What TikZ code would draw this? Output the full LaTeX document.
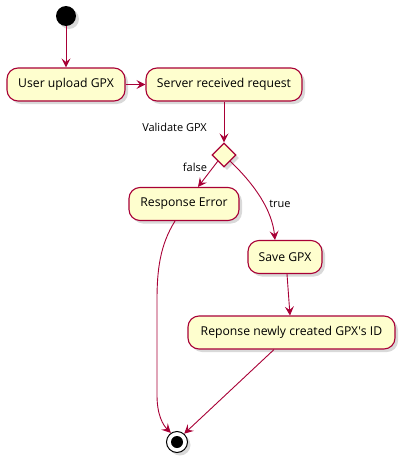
\documentclass[tikz,border=0pt]{standalone}
\usepackage{fontspec}
\setmainfont{Open Sans}
\usetikzlibrary{shapes.geometric,shadows,arrows.meta}
\definecolor{pbord}{HTML}{A80036}
\definecolor{pfill}{HTML}{FEFECE}
\tikzset{
  act/.style={draw=pbord, fill=pfill, line width=1.1pt, rounded corners=11pt, inner sep=0pt,
    minimum height=33pt, font=\fontsize{12.2}{14}\selectfont,
    drop shadow={shadow xshift=3pt, shadow yshift=-3pt, opacity=0.3}},
  dec/.style={draw=pbord, fill=pfill, line width=1.1pt, diamond, inner sep=0pt,
    minimum width=24pt, minimum height=24pt,
    drop shadow={shadow xshift=3pt, shadow yshift=-3pt, opacity=0.3}},
  arr/.style={draw=pbord, line width=0.9pt, -{Stealth[length=9pt,width=9pt,inset=3.5pt]}},
  lbl/.style={font=\fontsize{11}{13}\selectfont, inner sep=0pt},
}
\begin{document}
\begin{tikzpicture}[x=1pt,y=-1pt]
\useasboundingbox (0,0) rectangle (408,463);
\node[circle, fill=black, minimum size=20pt, inner sep=0pt,
  drop shadow={shadow xshift=3pt, shadow yshift=-3pt, opacity=0.3}] (start) at (66,16) {};
\node[act, minimum width=118pt] (user) at (66,84.5) {User upload GPX};
\node[act, minimum width=156pt] (server) at (224,84.5) {Server received request};
\node[dec] (valid) at (224,155) {};
\node[lbl, anchor=east] (vlab) at (207,127) {Validate GPX};
\node[act, minimum width=110pt] (err) at (184,204) {Response Error};
\node[act, minimum width=74pt] (save) at (285,257) {Save GPX};
\node[act, minimum width=207pt] (resp) at (291.5,332.5) {Reponse newly created GPX\textquotesingle s ID};
\node[circle, draw=black, line width=1pt, fill=white, minimum size=21pt, inner sep=0pt,
  drop shadow={shadow xshift=3pt, shadow yshift=-3pt, opacity=0.3}] (stop) at (177,442) {};
\node[circle, fill=black, minimum size=12pt, inner sep=0pt] (stopin) at (stop.center) {};
\draw[arr] (start) -- (user);
\draw[arr] (user) -- (server);
\draw[arr] (server) -- (valid);
\draw[arr] (valid.south west) -- (err.north east -| 198,0);
\node[lbl] (flab) at (195,167) {false};
\draw[arr] (valid.south east) .. controls (255,185) and (272,210) .. (save.north -| 275,0);
\node[lbl] (tlab) at (280,204) {true};
\draw[arr] (save.south -| 287,0) -- (resp.north -| 290,0);
\draw[arr] (err.south -| 175,0) .. controls (160,245) and (157,270) .. (157,300) -- (157,395) .. controls (157,415) and (163,425) .. (stop.124);
\draw[arr] (resp.south -| 274,0) -- (stop.49);
\end{tikzpicture}
\end{document}
